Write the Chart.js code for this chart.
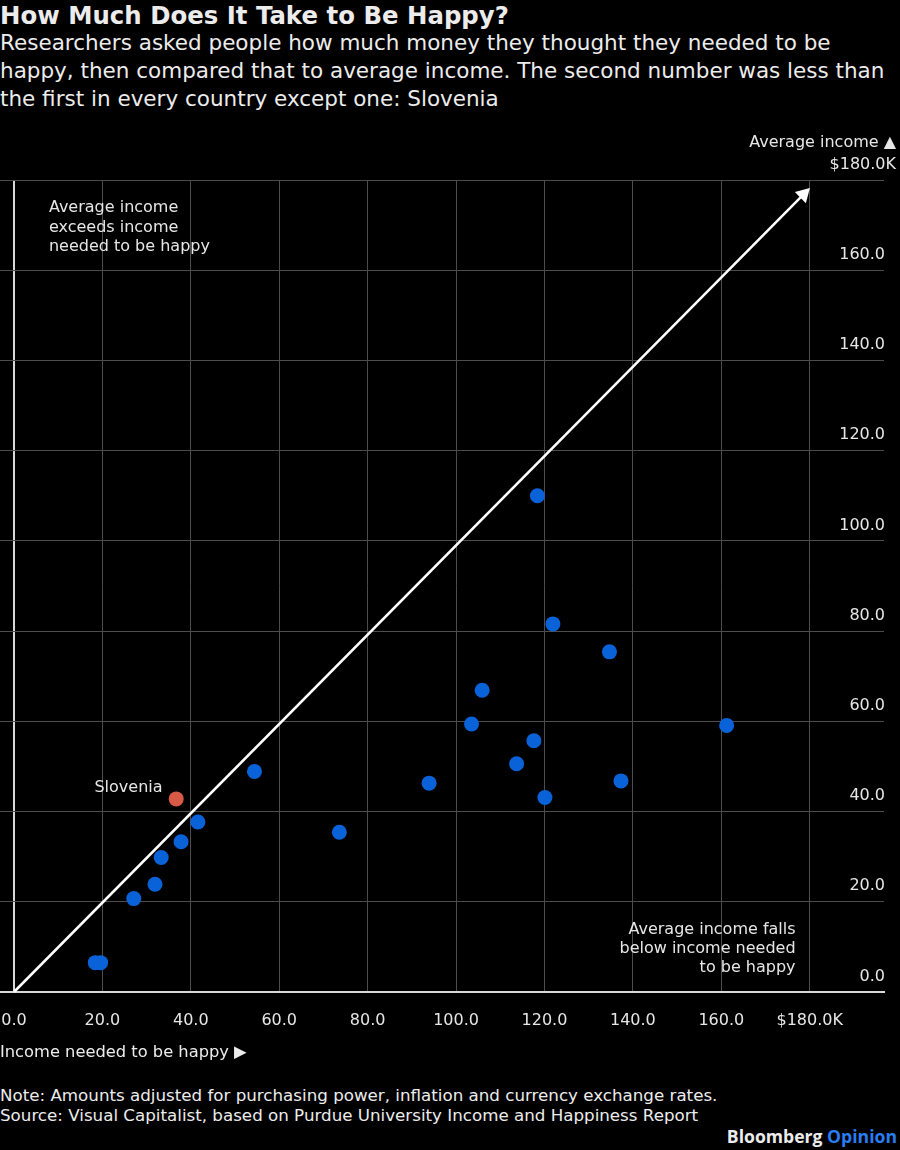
<!DOCTYPE html>
<html><head><meta charset="utf-8">
<script src="https://cdn.jsdelivr.net/npm/chart.js@4.4.1/dist/chart.umd.min.js"></script>
<style>
html,body{margin:0;padding:0;background:#000;}
body{width:900px;height:1150px;position:relative;overflow:hidden;font-family:'DejaVu Sans',sans-serif;color:#ececec;}
#title{position:absolute;left:0;top:2px;font-weight:bold;font-size:24.4px;line-height:28px;white-space:nowrap;}
#sub{position:absolute;left:0;top:29px;font-size:21.5px;line-height:28px;white-space:nowrap;}
#wrap{position:absolute;left:0;top:120px;width:900px;height:940px;}
#xlab{position:absolute;left:0;top:1042px;font-size:16.3px;line-height:20px;white-space:nowrap;}
#note{position:absolute;left:0;top:1086px;font-size:16.7px;line-height:19.5px;white-space:nowrap;}
#logo{position:absolute;right:3px;top:1125px;font-family:'Open Sans',sans-serif;font-weight:bold;font-size:17.6px;line-height:22px;}
#logo span{color:#2a7cf2;}
</style>
</head><body>
<div id="title">How Much Does It Take to Be Happy?</div>
<div id="sub">Researchers asked people how much money they thought they needed to be<br>happy, then compared that to average income. The second number was less than<br>the first in every country except one: Slovenia</div>
<div id="wrap"><canvas id="c"></canvas></div>
<div id="xlab">Income needed to be happy ▶</div>
<div id="note">Note: Amounts adjusted for purchasing power, inflation and currency exchange rates.<br>Source: Visual Capitalist, based on Purdue University Income and Happiness Report</div>
<div id="logo">Bloomberg <span>Opinion</span></div>
<script>
// Data (thousands of USD)
const incomeNeeded  = [118.4,121.9,134.7,105.9,103.5,161.2,117.6,113.7,93.9,137.3,120.1,54.4,41.6,73.6,37.8,33.3,31.9,27.1,18.4,19.6];
const averageIncome = [110.0,81.6,75.4,66.9,59.4,59.1,55.7,50.6,46.3,46.8,43.1,48.9,37.7,35.4,33.3,29.8,23.9,20.7,6.5,6.5];
const sloveniaNeeded  = [36.7];
const sloveniaAverage = [42.8];
const xTicks = [0,20,40,60,80,100,120,140,160,180];
const yTicks = [0,20,40,60,80,100,120,140,160,180];
const arrowX = [0,178.6];
const arrowY = [0,176.8];

const FONT = "'DejaVu Sans',sans-serif";
const TXT = '#e6e6e6';
const GRID = '#4d4d4d';
const AXIS = '#d8d8d8';

function fmt(v){ return v===180 ? '$180.0K' : v.toFixed(1); }
function noPad(s){ s.paddingLeft = 0; s.paddingRight = 0; s.paddingTop = 0; s.paddingBottom = 0; }

const annot = {
  id:'annot',
  afterDraw(chart){
    const ctx = chart.ctx, xs = chart.scales.x, ys = chart.scales.y;
    ctx.save();
    ctx.fillStyle = TXT;
    ctx.font = "16px " + FONT;
    ctx.textBaseline = 'middle';
    ctx.textAlign = 'left';
    const ul = ['Average income','exceeds income','needed to be happy'];
    ul.forEach((t,i)=>ctx.fillText(t, xs.getPixelForValue(7.9), ys.getPixelForValue(173.8) + i*19.4));
    ctx.textAlign = 'right';
    const lr = ['Average income falls','below income needed','to be happy'];
    lr.forEach((t,i)=>ctx.fillText(t, xs.getPixelForValue(176.8), ys.getPixelForValue(13.7) + i*18.7));
    ctx.fillText('Slovenia', xs.getPixelForValue(sloveniaNeeded[0]) - 13.7, ys.getPixelForValue(sloveniaAverage[0]) - 11.3);
    const top = ys.getPixelForValue(yTicks[yTicks.length-1]);
    ctx.fillText(fmt(yTicks[yTicks.length-1]), chart.width - 4, top - 15);
    ctx.fillText('Average income ▲', chart.width - 4, top - 37);
    ctx.restore();
  }
};

new Chart(document.getElementById('c'), {
  type:'scatter',
  data:{
    datasets:[
      { label:'Countries', data: incomeNeeded.map((x,i)=>({x, y:averageIncome[i]})),
        backgroundColor:'#0a62d8', borderWidth:0, pointRadius:7.5, pointHoverRadius:7.5, order:1 },
      { label:'Slovenia', data: sloveniaNeeded.map((x,i)=>({x, y:sloveniaAverage[i]})),
        backgroundColor:'#d65a45', borderWidth:0, pointRadius:7.5, pointHoverRadius:7.5, order:1 },
      { label:'Equal', type:'line', data: arrowX.map((x,i)=>({x, y:arrowY[i]})),
        borderColor:'#ffffff', borderWidth:2.5, backgroundColor:'#ffffff',
        pointRadius:[0,9], pointHoverRadius:[0,9], pointStyle:'triangle', rotation:45, pointBorderWidth:0, order:3, clip:false }
    ]
  },
  options:{
    responsive:true, maintainAspectRatio:false, animation:false,
    layout:{ autoPadding:false, padding:{ top:60, right:14, left:0, bottom:10.8 } },
    plugins:{ legend:{display:false}, tooltip:{enabled:false} },
    scales:{
      x:{ type:'linear', min:-3.16, max:196.8,
        afterBuildTicks(s){ s.ticks = xTicks.map(v=>({value:v})); },
        afterFit: noPad,
        ticks:{ color:TXT, font:{family:FONT,size:16}, padding:19, maxRotation:0, autoSkip:false,
          callback:(v)=>fmt(v) },
        grid:{ drawTicks:false, color:(c)=> c.tick && c.tick.value===0 ? AXIS : GRID,
          lineWidth:(c)=> c.tick && c.tick.value===0 ? 2 : 1 },
        border:{ display:true, color:AXIS, width:2 }
      },
      y:{ type:'linear', position:'right', min:0, max:180,
        afterBuildTicks(s){ s.ticks = yTicks.map(v=>({value:v})); },
        afterFit: noPad,
        ticks:{ color:TXT, font:{family:FONT,size:16}, mirror:true, padding:1, labelOffset:-15.5, autoSkip:false,
          callback:(v)=> v===180 ? '' : fmt(v) },
        grid:{ drawTicks:false, color:(c)=> c.tick && c.tick.value===0 ? AXIS : GRID,
          lineWidth:(c)=> c.tick && c.tick.value===0 ? 2 : 1 },
        border:{ display:false }
      }
    }
  },
  plugins:[annot]
});
</script>
</body></html>
